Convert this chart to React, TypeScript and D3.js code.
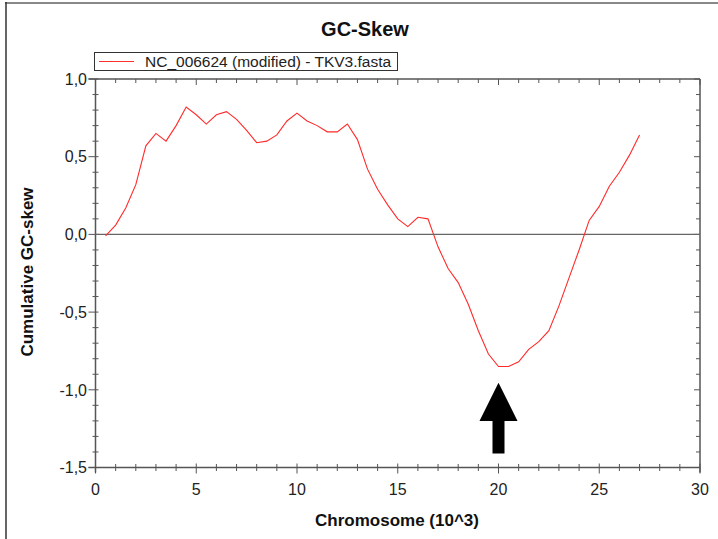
import { useEffect, useRef } from 'react';
import * as d3 from 'd3';

// chromosome position (10^3) and cumulative GC-skew
const positions = [
  0.5, 1, 1.5, 2, 2.5, 3, 3.5, 4, 4.5, 5, 5.5, 6, 6.5, 7, 7.5, 8, 8.5, 9, 9.5, 10,
  10.5, 11, 11.5, 12, 12.5, 13, 13.5, 14, 14.5, 15, 15.5, 16, 16.5, 17, 17.5, 18,
  18.5, 19, 19.5, 20, 20.5, 21, 21.5, 22, 22.5, 23, 23.5, 24, 24.5, 25, 25.5, 26,
  26.5, 27,
];
const skew = [
  -0.01, 0.06, 0.17, 0.32, 0.57, 0.65, 0.6, 0.7, 0.82, 0.77, 0.71, 0.77, 0.79, 0.74,
  0.67, 0.59, 0.6, 0.64, 0.73, 0.78, 0.73, 0.7, 0.66, 0.66, 0.71, 0.61, 0.42, 0.29,
  0.19, 0.1, 0.05, 0.11, 0.1, -0.08, -0.22, -0.31, -0.45, -0.62, -0.77, -0.85, -0.85,
  -0.82, -0.74, -0.69, -0.62, -0.46, -0.28, -0.1, 0.09, 0.18, 0.31, 0.4, 0.51, 0.64,
];
const xTicks = [0, 5, 10, 15, 20, 25, 30];
const yTicks = [1, 0.5, 0, -0.5, -1, -1.5];
const seriesName = 'NC_006624 (modified) - TKV3.fasta';
const arrowAt = 20;

const W = 718;
const H = 539;
const FONT = '"Liberation Sans", Arial, sans-serif';

export default function App() {
  const svgRef = useRef<SVGSVGElement>(null);

  useEffect(() => {
    if (!svgRef.current) return;
    const svg = d3.select(svgRef.current);
    svg.selectAll('*').remove();

    const left = 95.5, right = 700, top = 79, bottom = 467.5;
    const x = d3.scaleLinear().domain([0, 30]).range([left, right]);
    const y = d3.scaleLinear().domain([-1.5, 1]).range([bottom, top]);
    const axisColor = '#555';

    // outer frame
    svg.append('line').attr('x1', 5).attr('x2', W).attr('y1', 3).attr('y2', 3)
      .attr('stroke', '#888').attr('stroke-width', 2);
    svg.append('line').attr('x1', 6).attr('x2', 6).attr('y1', 2).attr('y2', H)
      .attr('stroke', '#333').attr('stroke-width', 1.5);

    // title
    svg.append('text').attr('x', 365).attr('y', 36).attr('text-anchor', 'middle')
      .style('font-family', FONT).style('font-size', '20px').style('font-weight', 'bold')
      .attr('fill', '#111').text('GC-Skew');

    // legend
    const lg = svg.append('g');
    lg.append('rect').attr('x', 94.5).attr('y', 52.5).attr('width', 303).attr('height', 18)
      .attr('fill', 'white').attr('stroke', '#333');
    lg.append('line').attr('x1', 99).attr('x2', 134).attr('y1', 61.5).attr('y2', 61.5)
      .attr('stroke', '#ff3030').attr('stroke-width', 1);
    lg.append('text').attr('x', 145).attr('y', 67).style('font-family', FONT)
      .style('font-size', '15.5px').attr('fill', '#222').text(seriesName);

    // box axes
    const ax = svg.append('g').attr('stroke', axisColor).attr('stroke-width', 1.5);
    ax.append('line').attr('x1', left).attr('x2', left).attr('y1', top).attr('y2', bottom + 5);
    ax.append('line').attr('x1', right).attr('x2', right).attr('y1', top).attr('y2', bottom + 5);
    ax.append('line').attr('x1', left - 7).attr('x2', right).attr('y1', top).attr('y2', top);
    ax.append('line').attr('x1', left - 7).attr('x2', right).attr('y1', bottom).attr('y2', bottom);

    const tk = svg.append('g').attr('stroke', axisColor).attr('stroke-width', 1);
    const xMinor = d3.range(0, 31, 1);
    const yMinor = d3.range(-15, 11, 1).map(v => v / 10);
    xMinor.forEach(v => {
      const major = v % 5 === 0;
      const px = x(v);
      tk.append('line').attr('x1', px).attr('x2', px)
        .attr('y1', bottom - (major ? 4 : 3.5)).attr('y2', bottom + (major ? 6 : 3.5));
      tk.append('line').attr('x1', px).attr('x2', px)
        .attr('y1', top).attr('y2', top + (major ? 6 : 4));
    });
    yMinor.forEach(v => {
      const major = Math.abs(Math.round(v * 10) % 5) === 0;
      const py = y(v);
      tk.append('line').attr('x1', left - (major ? 7 : 3)).attr('x2', left + (major ? 3 : 3))
        .attr('y1', py).attr('y2', py);
      tk.append('line').attr('x1', right - (major ? 6 : 4)).attr('x2', right)
        .attr('y1', py).attr('y2', py);
    });

    // tick labels
    svg.append('g').selectAll('text').data(xTicks).join('text')
      .attr('x', d => x(d)).attr('y', 495).attr('text-anchor', 'middle')
      .style('font-family', FONT).style('font-size', '16px').attr('fill', '#222')
      .text(d => String(d));
    svg.append('g').selectAll('text').data(yTicks).join('text')
      .attr('x', 87).attr('y', d => y(d)).attr('dy', '0.36em').attr('text-anchor', 'end')
      .style('font-family', FONT).style('font-size', '16px').attr('fill', '#222')
      .text(d => d.toFixed(1).replace('.', ','));

    // axis titles
    svg.append('text').attr('x', 397).attr('y', 526).attr('text-anchor', 'middle')
      .style('font-family', FONT).style('font-size', '17px').style('font-weight', 'bold')
      .attr('fill', '#111').text('Chromosome (10^3)');
    svg.append('text').attr('transform', 'translate(33,272) rotate(-90)').attr('text-anchor', 'middle')
      .style('font-family', FONT).style('font-size', '17px').style('font-weight', 'bold')
      .attr('fill', '#111').text('Cumulative GC-skew');

    // zero line
    svg.append('line').attr('x1', left).attr('x2', right).attr('y1', y(0)).attr('y2', y(0))
      .attr('stroke', '#666').attr('stroke-width', 1.2);

    // series
    const pts = positions.map((p, i) => [p, skew[i]] as [number, number]);
    const line = d3.line<[number, number]>().x(d => x(d[0])).y(d => y(d[1]));
    svg.append('path').datum(pts).attr('d', line).attr('fill', 'none')
      .attr('stroke', '#ff2a2a').attr('stroke-width', 1.1);

    // arrow marking the minimum
    const ax0 = x(arrowAt);
    const tipY = y(-0.955), baseY = y(-1.2), endY = y(-1.41);
    const arrow = d3.path();
    arrow.moveTo(ax0, tipY);
    arrow.lineTo(ax0 + 19, baseY);
    arrow.lineTo(ax0 + 6, baseY);
    arrow.lineTo(ax0 + 6, endY);
    arrow.lineTo(ax0 - 6, endY);
    arrow.lineTo(ax0 - 6, baseY);
    arrow.lineTo(ax0 - 19, baseY);
    arrow.closePath();
    svg.append('path').attr('d', arrow.toString()).attr('fill', '#000');
  }, []);

  return (
    <div style={{ position: 'absolute', left: 0, top: 0, width: W, height: H, background: 'white' }}>
      <svg ref={svgRef} width={W} height={H} style={{ display: 'block' }} />
    </div>
  );
}
